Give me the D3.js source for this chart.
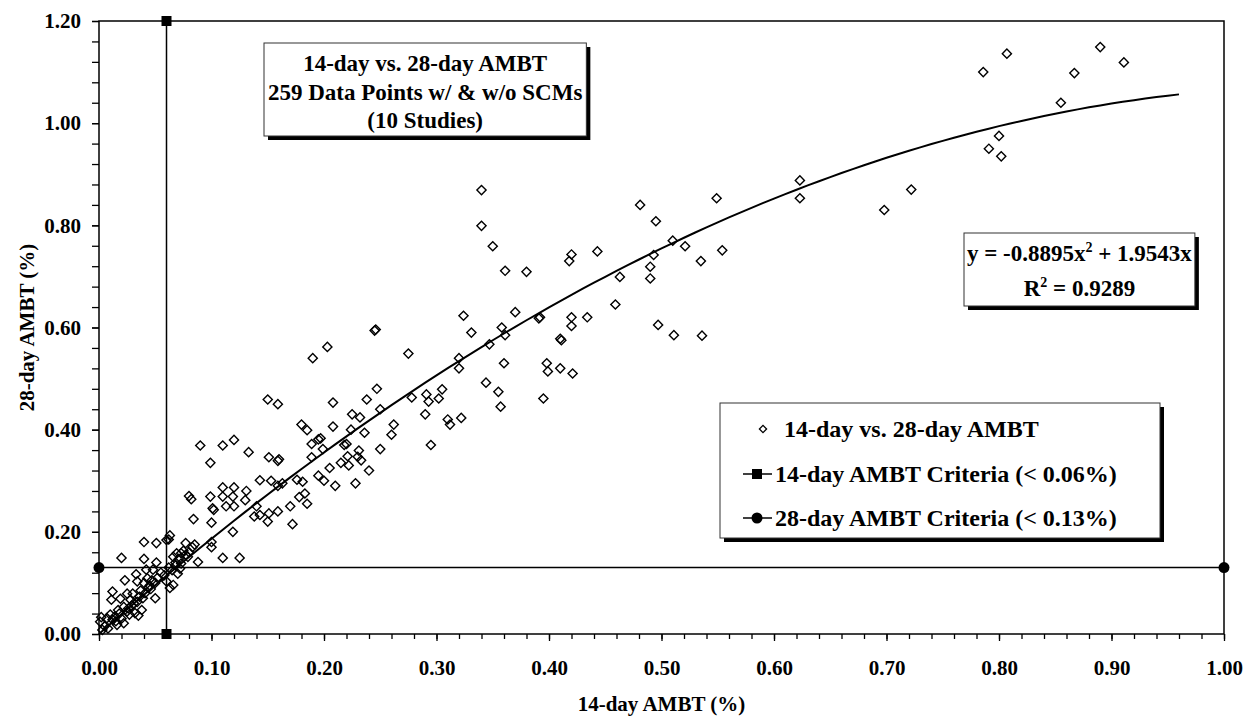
<!DOCTYPE html>
<html>
<head>
<meta charset="utf-8">
<script src="https://cdn.jsdelivr.net/npm/d3@7"></script>
<style>
  body { margin: 0; background: #fff; }
  svg text { font-family: "Liberation Serif", "Times New Roman", serif; font-weight: bold; fill: #000; }
</style>
</head>
<body>
<svg></svg>
<script>
// 14-day AMBT expansion (%) for each data point
const ambt14 = [
  0.001,0.002,0.003,0.005,0.007,0.008,0.010,0.011,0.012,0.012,
  0.014,0.015,0.016,0.017,0.018,0.019,0.020,0.020,0.022,0.022,
  0.023,0.025,0.025,0.026,0.027,0.028,0.029,0.030,0.031,0.032,
  0.033,0.034,0.034,0.035,0.036,0.037,0.038,0.039,0.040,0.040,
  0.040,0.041,0.042,0.043,0.044,0.045,0.046,0.047,0.048,0.050,
  0.050,0.051,0.051,0.052,0.055,0.058,
  0.060,0.060,0.062,0.062,0.063,0.063,0.065,0.066,0.066,0.068,
  0.068,0.069,0.070,0.071,0.072,0.073,0.073,0.075,0.077,0.077,
  0.079,0.080,0.083,0.085,0.088,
  0.080,0.082,0.084,0.090,0.099,0.099,0.100,0.101,0.102,0.100,
  0.100,0.110,0.110,0.110,0.110,0.113,0.119,0.119,0.120,0.120,
  0.120,0.125,0.130,0.131,0.133,0.138,0.140,0.143,0.143,0.150,
  0.150,0.151,0.151,0.153,0.159,0.159,0.159,0.159,
  0.160,0.163,0.170,0.172,0.176,0.178,0.180,0.181,0.183,0.185,
  0.185,0.189,0.189,0.190,0.195,0.195,0.197,0.199,0.200,0.203,
  0.205,0.208,0.208,0.210,0.215,0.218,0.220,0.221,0.222,0.224,
  0.225,0.228,0.230,0.231,0.232,0.233,0.236,0.238,0.240,0.245,
  0.246,0.247,0.250,0.250,0.260,0.262,0.275,
  0.278,0.290,0.291,0.293,0.295,0.302,0.305,0.310,0.312,0.320,
  0.320,0.322,0.324,0.331,
  0.340,0.340,0.344,0.347,0.350,0.355,0.357,0.358,0.360,0.361,
  0.361,0.370,0.380,0.391,0.392,0.395,0.398,0.399,0.410,0.411,
  0.410,0.418,0.420,0.420,0.420,0.421,0.434,0.443,
  0.459,0.463,0.481,0.490,0.490,0.493,0.495,0.497,0.510,0.511,
  0.521,0.535,0.536,0.549,0.554,
  0.623,0.623,0.698,0.722,0.786,0.791,0.800,0.802,0.807,0.855,
  0.867,0.890,0.911
];

// matching 28-day AMBT expansion (%)
const ambt28 = [
  0.024,0.033,0.008,0.015,0.031,0.011,0.038,0.067,0.083,0.028,
  0.034,0.025,0.018,0.047,0.040,0.069,0.149,0.030,0.053,0.021,
  0.105,0.079,0.044,0.050,0.038,0.067,0.055,0.079,0.060,0.041,
  0.117,0.063,0.103,0.036,0.073,0.085,0.047,0.070,0.100,0.147,
  0.180,0.080,0.126,0.109,0.090,0.095,0.088,0.105,0.126,0.070,
  0.100,0.140,0.178,0.110,0.120,0.115,
  0.103,0.184,0.185,0.130,0.193,0.090,0.125,0.096,0.151,0.134,
  0.140,0.158,0.118,0.147,0.128,0.138,0.158,0.163,0.155,0.178,
  0.151,0.160,0.170,0.175,0.141,
  0.270,0.264,0.225,0.369,0.335,0.269,0.218,0.246,0.243,0.180,
  0.170,0.369,0.287,0.269,0.149,0.250,0.200,0.269,0.380,0.287,
  0.250,0.149,0.262,0.280,0.356,0.230,0.250,0.233,0.301,0.459,
  0.220,0.346,0.236,0.300,0.450,0.339,0.290,0.240,
  0.342,0.295,0.250,0.215,0.302,0.268,0.410,0.298,0.275,0.399,
  0.255,0.372,0.346,0.540,0.381,0.310,0.383,0.362,0.300,0.562,
  0.325,0.453,0.406,0.290,0.335,0.370,0.372,0.348,0.330,0.400,
  0.430,0.295,0.347,0.359,0.424,0.340,0.394,0.459,0.320,0.594,
  0.596,0.480,0.440,0.362,0.390,0.410,0.549,
  0.463,0.430,0.469,0.455,0.370,0.461,0.479,0.420,0.410,0.540,
  0.520,0.423,0.623,0.590,
  0.869,0.799,0.492,0.567,0.759,0.474,0.445,0.600,0.530,0.711,
  0.585,0.630,0.709,0.618,0.620,0.461,0.530,0.514,0.578,0.575,
  0.520,0.730,0.743,0.620,0.603,0.510,0.620,0.749,
  0.645,0.699,0.840,0.719,0.696,0.742,0.808,0.605,0.770,0.585,
  0.759,0.730,0.584,0.853,0.751,
  0.888,0.853,0.830,0.870,1.100,0.950,0.975,0.935,1.136,1.040,
  1.098,1.149,1.119
];

// polynomial trendline shown on the chart
const trendA = -0.8895;
const trendB = 1.9543;
const trendMaxX = 0.96;

// acceptance criteria
const criteria14 = 0.06;
const criteria28 = 0.13;

const xTicks = [0, 0.1, 0.2, 0.3, 0.4, 0.5, 0.6, 0.7, 0.8, 0.9, 1.0];
const yTicks = [0, 0.2, 0.4, 0.6, 0.8, 1.0, 1.2];

const titleLines = ["14-day vs. 28-day AMBT", "259 Data Points w/ & w/o SCMs", "(10 Studies)"];
const legendLabels = ["14-day vs. 28-day AMBT", "14-day AMBT Criteria (< 0.06%)", "28-day AMBT Criteria (< 0.13%)"];

const width = 1258;
const height = 718;
const plotLeft = 99, plotRight = 1224, plotTop = 21, plotBottom = 634;

const svg = d3.select("svg");
let xScale, yScale;

const diamond = d3.symbol().type(d3.symbolSquare).size(42);

function drawCanvas() {
  svg.attr("width", width).attr("height", height);
}

function generateScales() {
  xScale = d3.scaleLinear().domain([0, 1]).range([plotLeft, plotRight]);
  yScale = d3.scaleLinear().domain([0, 1.2]).range([plotBottom, plotTop]);
}

function generateAxes() {
  const xMinor = d3.range(0, 51).map((i) => i / 50);
  const yMinor = d3.range(0, 31).map((i) => i / 25);

  svg.append("g")
    .attr("transform", `translate(0, ${plotBottom})`)
    .call(d3.axisBottom(xScale).tickValues(xMinor).tickSize(5).tickFormat(""))
    .call((g) => g.select(".domain").remove());

  svg.append("g")
    .attr("transform", `translate(0, ${plotBottom})`)
    .call(d3.axisBottom(xScale).tickValues(xTicks).tickSize(7).tickPadding(19).tickFormat(d3.format(".2f")))
    .call((g) => g.select(".domain").remove())
    .call((g) => g.selectAll("text").style("font-size", "21px").attr("font-family", null));

  svg.append("g")
    .attr("transform", `translate(${plotLeft}, 0)`)
    .call(d3.axisLeft(yScale).tickValues(yMinor).tickSize(7).tickFormat(""))
    .call((g) => g.select(".domain").remove());

  svg.append("g")
    .attr("transform", `translate(${plotLeft}, 0)`)
    .call(d3.axisLeft(yScale).tickValues(yTicks).tickSize(7).tickPadding(11).tickFormat(d3.format(".2f")))
    .call((g) => g.select(".domain").remove())
    .call((g) => g.selectAll("text").style("font-size", "21px").attr("font-family", null));

  svg.selectAll(".tick line").attr("stroke", "#000").attr("stroke-width", 1.3);

  // plot frame
  svg.append("rect")
    .attr("x", plotLeft).attr("y", plotTop)
    .attr("width", plotRight - plotLeft).attr("height", plotBottom - plotTop)
    .attr("fill", "none").attr("stroke", "#000").attr("stroke-width", 1.5);

  svg.append("text")
    .attr("x", (plotLeft + plotRight) / 2)
    .attr("y", 711)
    .style("text-anchor", "middle")
    .style("font-size", "21px")
    .text("14-day AMBT (%)");

  svg.append("text")
    .attr("transform", "rotate(-90)")
    .attr("x", -(plotTop + plotBottom) / 2)
    .attr("y", 34)
    .style("text-anchor", "middle")
    .style("font-size", "21px")
    .text("28-day AMBT (%)");
}

function drawCriteria() {
  svg.append("line")
    .attr("x1", xScale(criteria14)).attr("x2", xScale(criteria14))
    .attr("y1", yScale(0)).attr("y2", yScale(1.2))
    .attr("stroke", "#000").attr("stroke-width", 1.5);
  svg.selectAll(".sq")
    .data([0, 1.2])
    .enter()
    .append("rect")
    .attr("x", xScale(criteria14) - 5)
    .attr("y", (d) => yScale(d) - 5)
    .attr("width", 10).attr("height", 10)
    .attr("fill", "#000");

  svg.append("line")
    .attr("x1", xScale(0)).attr("x2", xScale(1))
    .attr("y1", yScale(criteria28)).attr("y2", yScale(criteria28))
    .attr("stroke", "#000").attr("stroke-width", 1.5);
  svg.selectAll(".dot")
    .data([0, 1])
    .enter()
    .append("circle")
    .attr("cx", (d) => xScale(d))
    .attr("cy", yScale(criteria28))
    .attr("r", 5.5)
    .attr("fill", "#000");
}

function drawPoints() {
  svg.append("g")
    .selectAll("path")
    .data(ambt14)
    .enter()
    .append("path")
    .attr("d", diamond)
    .attr("transform", (d, i) => `translate(${xScale(d)}, ${yScale(ambt28[i])}) rotate(45)`)
    .attr("fill", "none")
    .attr("stroke", "#000")
    .attr("stroke-width", 1.4);
}

function drawTrend() {
  const xs = d3.range(0, 97).map((i) => (i / 96) * trendMaxX);
  const line = d3.line()
    .x((d) => xScale(d))
    .y((d) => yScale(trendA * d * d + trendB * d));
  svg.append("path")
    .datum(xs)
    .attr("d", line)
    .attr("fill", "none")
    .attr("stroke", "#000")
    .attr("stroke-width", 2);
}

// box with a drop shadow, sized to its text
function textBox(x, y, w, h) {
  const g = svg.append("g");
  g.append("rect").attr("x", x + 4).attr("y", y + 4).attr("width", w).attr("height", h).attr("fill", "#000");
  g.append("rect").attr("x", x).attr("y", y).attr("width", w).attr("height", h)
    .attr("fill", "#fff").attr("stroke", "#333").attr("stroke-width", 1);
  return g;
}

function drawTitleBox() {
  const g = textBox(264, 43, 300, 93);
  const texts = g.selectAll(".t")
    .data(titleLines)
    .enter()
    .append("text")
    .attr("y", (d, i) => 71 + i * 28.5)
    .style("font-size", "23px")
    .style("text-anchor", "middle")
    .text((d) => d);
  const w = d3.max(texts.nodes(), (n) => n.getComputedTextLength()) + 8;
  g.selectAll("rect").attr("width", w);
  texts.attr("x", 264 + w / 2);
}

function drawEquationBox() {
  const g = textBox(964, 233, 230, 73);
  const eq = g.append("text").attr("y", 261).style("font-size", "23px").style("text-anchor", "middle");
  eq.append("tspan").text(`y = ${trendA.toFixed(4)}x`);
  eq.append("tspan").attr("dy", -9).style("font-size", "14px").text("2");
  eq.append("tspan").attr("dy", 9).text(` + ${trendB.toFixed(4)}x`);
  const r2 = g.append("text").attr("y", 296).style("font-size", "23px").style("text-anchor", "middle");
  r2.append("tspan").text("R");
  r2.append("tspan").attr("dy", -9).style("font-size", "14px").text("2");
  r2.append("tspan").attr("dy", 9).text(" = 0.9289");
  const w = eq.node().getComputedTextLength() + 6;
  g.selectAll("rect").attr("width", w);
  eq.attr("x", 964 + w / 2);
  r2.attr("x", 964 + w / 2);
}

function drawLegend() {
  const g = textBox(720, 403, 440, 135);
  const rows = [429, 474, 518];
  g.append("path")
    .attr("d", d3.symbol().type(d3.symbolSquare).size(26))
    .attr("transform", `translate(763, ${rows[0]}) rotate(45)`)
    .attr("fill", "none").attr("stroke", "#000").attr("stroke-width", 1.3);
  [1, 2].forEach((k) => {
    g.append("line").attr("x1", 743).attr("x2", 772).attr("y1", rows[k]).attr("y2", rows[k])
      .attr("stroke", "#000").attr("stroke-width", 1.5);
  });
  g.append("rect").attr("x", 752).attr("y", rows[1] - 5).attr("width", 10).attr("height", 10).attr("fill", "#000");
  g.append("circle").attr("cx", 757).attr("cy", rows[2]).attr("r", 5.5).attr("fill", "#000");
  g.selectAll(".l")
    .data(legendLabels)
    .enter()
    .append("text")
    .attr("x", (d, i) => (i === 0 ? 784 : 775))
    .attr("y", (d, i) => rows[i] + 8)
    .style("font-size", "24px")
    .text((d) => d);
}

drawCanvas();
generateScales();
drawCriteria();
drawPoints();
drawTrend();
generateAxes();
drawTitleBox();
drawEquationBox();
drawLegend();
</script>
</body>
</html>
